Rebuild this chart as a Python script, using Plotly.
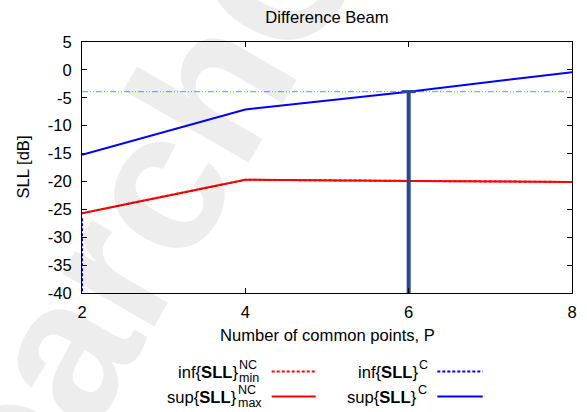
import plotly.graph_objects as go

# ---- data -------------------------------------------------------------
P = [2, 4, 6, 8]
inf_sll_nc_min = [-25.7, -19.7, -19.9, -20.1]
sup_sll_nc_max = [-25.7, -19.7, -19.9, -20.1]
sup_sll_c = [-15.2, -7.1, -3.9, -0.4]

# inf{SLL}^C only shows up at P = 2, dropping off the bottom of the axis
inf_sll_c_P = [2, 2]
inf_sll_c = [-26.6, -40.0]

# reference level and the marked configuration
ref_level = -3.9
marked_P = 6
y_floor = -40

x_ticks = [2, 4, 6, 8]
y_ticks = [5, 0, -5, -10, -15, -20, -25, -30, -35, -40]

# ---- figure geometry ----------------------------------------------------
W, H = 587, 412
L, R, T, B = 82, 15, 42, 119
PW, PH = W - L - R, H - T - B
FONT = "Liberation Sans, Arial, sans-serif"
FS = 16.6


def px(x):
    return (x - L) / PW


def py(y):
    return (H - B - y) / PH


RED = "#ff0000"
BLUE = "#0000ff"
BAR = "#22479b"
REF = "#8aa8f0"

fig = go.Figure()

fig.add_trace(go.Scatter(x=[P[0], P[-1]], y=[ref_level, ref_level], mode="lines",
                         line=dict(color=REF, width=1.2, dash="6px,2px,1px,2px,1px,2px"),
                         showlegend=False, hoverinfo="skip"))
fig.add_trace(go.Scatter(x=inf_sll_c_P, y=inf_sll_c, mode="lines",
                         line=dict(color=BLUE, width=2, dash="3px,2px"),
                         showlegend=False))
fig.add_trace(go.Scatter(x=P, y=inf_sll_nc_min, mode="lines",
                         line=dict(color=RED, width=2, dash="3px,2px"),
                         showlegend=False))
fig.add_trace(go.Scatter(x=P, y=sup_sll_nc_max, mode="lines",
                         line=dict(color=RED, width=2), showlegend=False))
fig.add_trace(go.Scatter(x=P, y=sup_sll_c, mode="lines",
                         line=dict(color=BLUE, width=2), showlegend=False))
# marked configuration: thick vertical bar with a cap on top
fig.add_trace(go.Scatter(x=[marked_P, marked_P], y=[y_floor, ref_level], mode="lines",
                         line=dict(color=BAR, width=4), showlegend=False))
fig.add_trace(go.Scatter(x=[marked_P], y=[ref_level], mode="markers",
                         marker=dict(symbol="line-ew", size=10,
                                     line=dict(color=BAR, width=3)),
                         showlegend=False, cliponaxis=False))

axis_common = dict(showline=True, linecolor="black", linewidth=1, mirror="ticks",
                   ticks="inside", ticklen=5, tickcolor="black", tickwidth=1,
                   showgrid=False, zeroline=False,
                   tickfont=dict(family=FONT, size=FS, color="black"))

fig.update_xaxes(range=[2, 8], tickvals=x_ticks, ticktext=[str(v) for v in x_ticks],
                 ticklabelstandoff=4, **axis_common)
fig.update_yaxes(range=[-40, 5], tickvals=y_ticks, ticktext=[str(v) for v in y_ticks],
                 layer="below traces", ticklabelstandoff=6, **axis_common)

annotations = []

# faint diagonal watermark
annotations.append(dict(text="<b>ResearchGate</b>", x=px(128), y=py(232),
                        xref="paper", yref="paper", xanchor="center", yanchor="middle",
                        showarrow=False, textangle=-60,
                        font=dict(family=FONT, size=200, color="rgba(0,0,0,0.07)")))

# axis titles
annotations.append(dict(text="Number of common points, P", x=0.5, y=py(335),
                        xref="paper", yref="paper", xanchor="center", yanchor="middle",
                        showarrow=False, font=dict(family=FONT, size=FS, color="black")))
annotations.append(dict(text="SLL [dB]", x=px(23), y=0.5, textangle=-90,
                        xref="paper", yref="paper", xanchor="center", yanchor="middle",
                        showarrow=False, font=dict(family=FONT, size=FS, color="black")))

# legend: label text, stacked super/subscripts, then the line sample
SFS = 12.5
legend_rows = [
    # (main text, right edge px, sup, sub, row y px, line x0, line x1, colour, dash)
    ("inf{<b>SLL</b>}", 238.5, "NC", "min", 372.0, 271.7, 315.7, RED, "3px,2px"),
    ("sup{<b>SLL</b>}", 237.5, "NC", "max", 397.0, 271.7, 315.7, RED, "solid"),
    ("inf{<b>SLL</b>}", 418.5, "C", None, 372.0, 437.3, 482.7, BLUE, "3px,2px"),
    ("sup{<b>SLL</b>}", 418.0, "C", None, 397.0, 437.3, 482.7, BLUE, "solid"),
]
shapes = []
for text, xr, sup, sub, yr, lx0, lx1, col, dash in legend_rows:
    annotations.append(dict(text=text, x=px(xr), y=py(yr), xref="paper", yref="paper",
                            xanchor="right", yanchor="middle", showarrow=False,
                            borderpad=0,
                            font=dict(family=FONT, size=FS, color="black")))
    annotations.append(dict(text=sup, x=px(xr - 1), y=py(yr - 7.5), xref="paper",
                            yref="paper", xanchor="left", yanchor="middle",
                            showarrow=False, borderpad=0,
                            font=dict(family=FONT, size=SFS, color="black")))
    if sub:
        annotations.append(dict(text=sub, x=px(xr - 1), y=py(yr + 5.5), xref="paper",
                                yref="paper", xanchor="left", yanchor="middle",
                                showarrow=False, borderpad=0,
                                font=dict(family=FONT, size=SFS, color="black")))
    shapes.append(dict(type="line", xref="paper", yref="paper",
                       x0=px(lx0), x1=px(lx1), y0=py(yr - 0.5), y1=py(yr - 0.5),
                       line=dict(color=col, width=2, dash=dash)))

fig.update_layout(
    width=W, height=H,
    margin=dict(l=L, r=R, t=T, b=B, autoexpand=False),
    paper_bgcolor="white", plot_bgcolor="white",
    title=dict(text="Difference Beam", x=0.5, xref="paper", xanchor="center",
               y=1 - 17 / H, yref="container", yanchor="middle",
               font=dict(family=FONT, size=FS, color="black")),
    annotations=annotations,
    shapes=shapes,
    showlegend=False,
)

fig.write_html("out.html")
